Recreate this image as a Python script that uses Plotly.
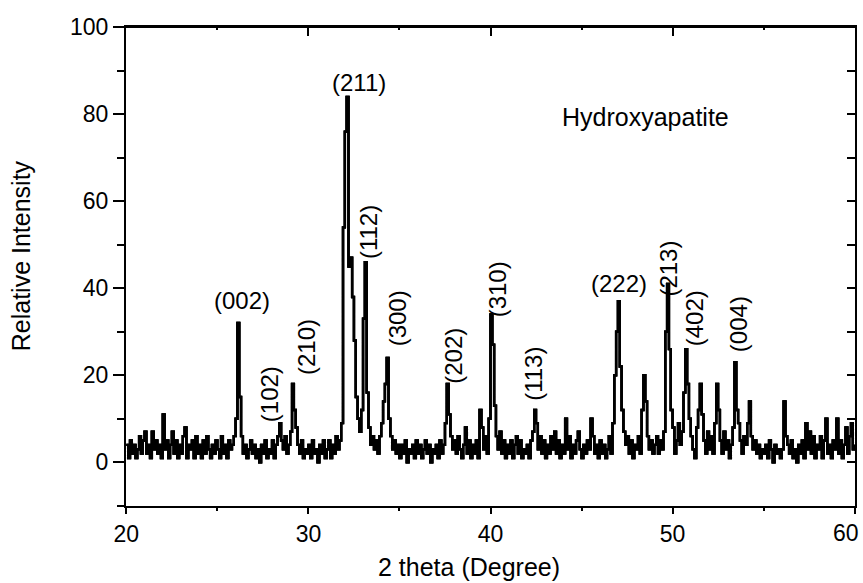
import numpy as np
import plotly.graph_objects as go

# 2-theta grid: 20.0 .. 60.0 in 0.1 degree steps
two_theta_start = 20.0
two_theta_step = 0.1

# Relative intensity, one row per degree (20.x ... 59.x), then 60.0
intensity_rows = [
    [4, 1, 5, 2, 4, 1, 3, 6, 2, 5],      # 20
    [7, 2, 4, 1, 7, 3, 5, 2, 4, 1],      # 21
    [11, 3, 5, 1, 4, 7, 2, 5, 1, 4],     # 22
    [2, 6, 8, 1, 4, 3, 5, 1, 6, 2],      # 23
    [4, 1, 5, 2, 6, 3, 1, 4, 2, 5],      # 24
    [3, 1, 6, 2, 4, 1, 5, 3, 4, 6],      # 25
    [10, 32, 15, 6, 2, 4, 1, 3, 5, 2],   # 26
    [4, 1, 3, 0, 4, 2, 5, 1, 3, 2],      # 27
    [5, 1, 4, 6, 9, 5, 3, 6, 2, 4],      # 28
    [7, 18, 12, 8, 4, 2, 5, 1, 3, 2],    # 29
    [4, 1, 5, 2, 3, 0, 4, 2, 5, 1],      # 30
    [3, 5, 1, 4, 2, 6, 3, 5, 9, 54],     # 31
    [76, 84, 45, 47, 38, 28, 15, 10, 7, 12],  # 32
    [33, 46, 16, 8, 4, 6, 3, 5, 2, 6],   # 33
    [9, 14, 18, 24, 10, 6, 3, 5, 2, 4],  # 34
    [1, 4, 2, 5, 0, 3, 2, 4, 1, 5],      # 35
    [2, 4, 1, 3, 5, 2, 4, 0, 3, 2],      # 36
    [4, 1, 5, 2, 4, 9, 18, 11, 6, 3],    # 37
    [5, 2, 6, 3, 1, 4, 8, 2, 5, 1],      # 38
    [4, 2, 5, 1, 12, 8, 3, 6, 2, 10],    # 39
    [34, 27, 13, 6, 3, 7, 2, 5, 1, 4],   # 40
    [2, 5, 1, 4, 6, 2, 5, 1, 3, 2],      # 41
    [4, 1, 5, 7, 12, 9, 3, 6, 2, 5],     # 42
    [1, 4, 2, 6, 3, 7, 2, 5, 1, 4],      # 43
    [2, 10, 3, 6, 1, 4, 2, 5, 7, 3],     # 44
    [1, 4, 2, 5, 3, 10, 6, 2, 4, 1],     # 45
    [5, 2, 4, 1, 3, 6, 2, 9, 20, 30],    # 46
    [37, 22, 12, 7, 4, 6, 2, 5, 1, 4],   # 47
    [3, 6, 2, 12, 20, 14, 6, 3, 5, 2],   # 48
    [4, 6, 2, 5, 3, 7, 30, 41, 26, 12],  # 49
    [8, 2, 5, 9, 4, 7, 16, 26, 18, 10],  # 50
    [6, 3, 1, 8, 12, 18, 11, 5, 2, 7],   # 51
    [3, 6, 2, 9, 18, 12, 5, 2, 7, 3],    # 52
    [5, 1, 4, 8, 23, 12, 9, 5, 2, 6],    # 53
    [4, 9, 14, 6, 3, 5, 2, 4, 1, 3],     # 54
    [2, 4, 1, 5, 3, 0, 4, 2, 3, 1],      # 55
    [3, 14, 6, 4, 2, 5, 1, 3, 0, 4],     # 56
    [2, 5, 1, 9, 3, 7, 2, 6, 1, 4],      # 57
    [3, 6, 1, 5, 10, 2, 4, 1, 5, 3],     # 58
    [10, 2, 5, 1, 4, 8, 2, 6, 9, 3],     # 59
    [4],                                 # 60
]

# Miller index labels: text, x, y, rotation
peak_labels = ["(002)", "(102)", "(210)", "(211)", "(112)", "(300)", "(202)",
               "(310)", "(113)", "(222)", "(213)", "(402)", "(004)"]
label_x = [26.35, 27.9, 29.9, 32.8, 33.3, 34.9, 38.0, 40.4, 42.35, 47.05, 49.8, 51.2, 53.66]
label_y = [37.2, 15.7, 26.4, 87.3, 52.8, 33.0, 24.5, 39.7, 20.4, 41.0, 44.5, 33.2, 31.8]
label_angle = [0, -90, -90, 0, -90, -90, -90, -90, -90, 0, -90, -90, -90]

x_ticks = [20, 30, 40, 50, 60]
x_ticktext = ["20", "30", "40", "50", ""]   # last label drawn right-aligned below
y_ticks = [0, 20, 40, 60, 80, 100]
x_range = [20, 60]
y_range = [-10, 100]

intensity = [v for row in intensity_rows for v in row]
two_theta = np.round(two_theta_start + two_theta_step * np.arange(len(intensity)), 2)

FONT = "Liberation Sans, Arial, sans-serif"

fig = go.Figure()
# same pattern drawn on the main axes and on the mirrored (top / right) axes
for xa, ya in (("x", "y"), ("x2", "y"), ("x", "y2")):
    fig.add_trace(go.Scatter(
        x=two_theta, y=intensity, mode="lines", xaxis=xa, yaxis=ya,
        line=dict(color="black", width=2.4, shape="hv"),
        showlegend=False, hoverinfo="skip",
    ))

for t, xx, yy, a in zip(peak_labels, label_x, label_y, label_angle):
    fig.add_annotation(x=xx, y=yy, text=t, textangle=a, showarrow=False,
                       font=dict(family=FONT, size=24, color="black"),
                       xanchor="center", yanchor="middle")

fig.add_annotation(x=48.5, y=79.3, text="Hydroxyapatite", showarrow=False,
                   font=dict(family=FONT, size=25, color="black"),
                   xanchor="center", yanchor="middle")

# last x tick label, kept inside the page like the original
fig.add_annotation(x=x_ticks[-1], y=0, yref="paper", text=str(x_ticks[-1]),
                   showarrow=False, xanchor="right", yanchor="top",
                   xshift=6, yshift=-12,
                   font=dict(family=FONT, size=23, color="black"))

# axis titles
fig.add_annotation(x=0.47, y=-0.128, xref="paper", yref="paper",
                   text="2 theta (Degree)", showarrow=False,
                   xanchor="center", yanchor="middle",
                   font=dict(family=FONT, size=25, color="black"))
fig.add_annotation(x=-0.1436, y=0.522, xref="paper", yref="paper",
                   text="Relative Intensity", showarrow=False, textangle=-90,
                   xanchor="center", yanchor="middle",
                   font=dict(family=FONT, size=25, color="black"))

# frame border on the top edge of the plotting area
fig.add_shape(type="line", xref="paper", yref="paper", x0=0, x1=1, y0=1, y1=1,
              line=dict(color="black", width=2), layer="above")

axis_common = dict(showgrid=False, zeroline=False, showline=True,
                   linecolor="black", linewidth=2, tickcolor="black")

eps = 0.02
xr = [x_range[0] - eps, x_range[1] + eps]
yr = [y_range[0] - 0.05, y_range[1] + 0.05]
fig.update_layout(
    width=863, height=583,
    margin=dict(l=126, r=6, t=27, b=77),
    paper_bgcolor="white", plot_bgcolor="white",
    font=dict(family=FONT, size=23, color="black"),
    xaxis=dict(range=xr, tickvals=x_ticks, ticktext=x_ticktext, mirror=True,
               ticks="outside", ticklen=6, tickwidth=2,
               minor=dict(dtick=5, tick0=20, ticks="outside", ticklen=3,
                          tickwidth=2, tickcolor="black"),
               tickfont=dict(size=23), **axis_common),
    yaxis=dict(range=yr, tickvals=y_ticks, mirror=True,
               ticks="outside", ticklen=11, tickwidth=2,
               minor=dict(dtick=10, tick0=0, ticks="outside", ticklen=7,
                          tickwidth=2, tickcolor="black"),
               tickfont=dict(size=23), **axis_common),
    xaxis2=dict(range=xr, overlaying="x", side="top", anchor="y",
                tickvals=x_ticks, ticks="inside", ticklen=9, tickwidth=2,
                minor=dict(dtick=5, tick0=20, ticks="inside", ticklen=3,
                           tickwidth=2, tickcolor="black"),
                showticklabels=False, **axis_common),
    yaxis2=dict(range=yr, overlaying="y", side="right", anchor="x",
                tickvals=y_ticks, ticks="inside", ticklen=8, tickwidth=2,
                minor=dict(dtick=10, tick0=0, ticks="inside", ticklen=8,
                           tickwidth=2, tickcolor="black"),
                showticklabels=False, **axis_common),
)

fig.write_html("out.html")
